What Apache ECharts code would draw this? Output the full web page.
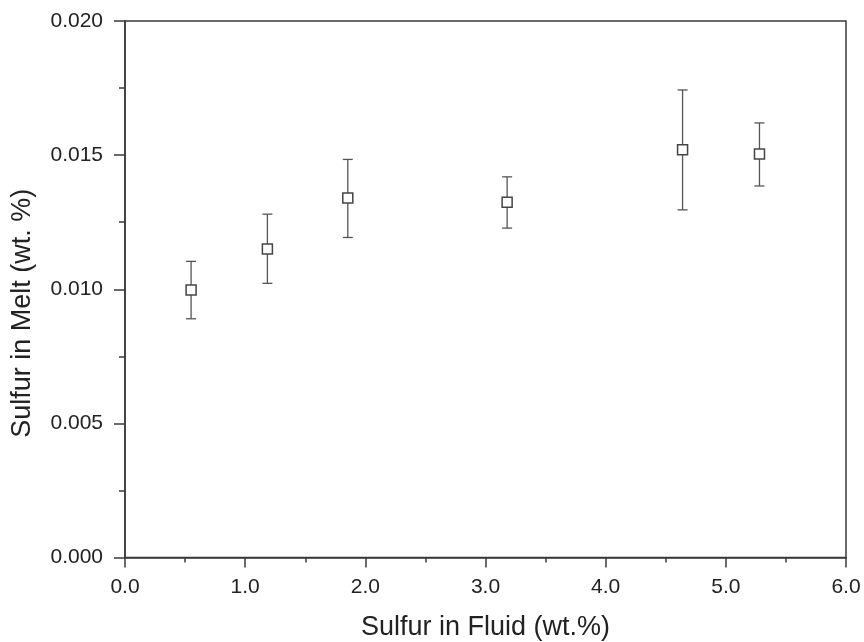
<!DOCTYPE html>
<html><head><meta charset="utf-8">
<script src="https://cdn.jsdelivr.net/npm/echarts@6/dist/echarts.min.js"></script>
<style>html,body{margin:0;padding:0;background:#fff}#c{width:864px;height:642px}</style>
</head><body><div id="c"></div>
<script>
var fluidS = [0.55, 1.185, 1.854, 3.18, 4.64, 5.28];
var meltS = [0.00997, 0.0115, 0.0134, 0.01324, 0.0152, 0.01504];
var errHigh = [0.01104, 0.0128, 0.01484, 0.01419, 0.01743, 0.0162];
var errLow = [0.0089, 0.01022, 0.01193, 0.01228, 0.01296, 0.01385];
var xTitle = 'Sulfur in Fluid (wt.%)';
var yTitle = 'Sulfur in Melt (wt. %)';

var pts = fluidS.map(function(x, i){ return [x, meltS[i]]; });
var errs = fluidS.map(function(x, i){ return [x, errLow[i], errHigh[i]]; });
var axisCol = '#3a3a3a';
var font = 'Liberation Sans, Arial, sans-serif';

var chart = echarts.init(document.getElementById('c'), null, {renderer:'canvas'});
chart.setOption({
  animation: false,
  backgroundColor: '#fff',
  grid: {left:125, top:21, right:18, bottom:84.5, containLabel:false, outerBoundsMode:'none',
         show:true, borderColor:axisCol, borderWidth:1.5, backgroundColor:'transparent'},
  xAxis: {
    type:'value', min:0, max:6, interval:1,
    name:xTitle, nameLocation:'middle', nameGap:57,
    nameTextStyle:{fontFamily:font, fontSize:27, color:'#222'},
    axisLine:{show:true, lineStyle:{color:axisCol, width:1.5}},
    axisTick:{show:true, length:10, lineStyle:{color:axisCol, width:1.5}},
    minorTick:{show:true, splitNumber:2, length:5, lineStyle:{color:axisCol, width:1.5}},
    splitLine:{show:false},
    axisLabel:{fontFamily:font, fontSize:21, color:'#222', margin:19, formatter:function(v){return v.toFixed(1);}}
  },
  yAxis: {
    type:'value', min:0, max:0.02, interval:0.005,
    name:yTitle, nameLocation:'middle', nameGap:89, nameRotate:90,
    nameTextStyle:{fontFamily:font, fontSize:27, color:'#222', padding:[0,48,0,0]},
    axisLine:{show:true, lineStyle:{color:axisCol, width:1.5}},
    axisTick:{show:true, length:11, lineStyle:{color:axisCol, width:1.5}},
    minorTick:{show:true, splitNumber:2, length:6, lineStyle:{color:axisCol, width:1.5}},
    splitLine:{show:false},
    axisLabel:{fontFamily:font, fontSize:21, color:'#222', margin:22, formatter:function(v){return v.toFixed(3);}}
  },
  series: [
    {
      type:'custom',
      data: errs,
      z: 2,
      renderItem: function(params, api){
        var x = api.value(0);
        var lo = api.coord([x, api.value(1)]);
        var hi = api.coord([x, api.value(2)]);
        var hw = 5;
        var st = {stroke:'#555', lineWidth:1.3, fill:null};
        return {type:'group', children:[
          {type:'line', shape:{x1:lo[0], y1:lo[1], x2:hi[0], y2:hi[1]}, style:st},
          {type:'line', shape:{x1:lo[0]-hw, y1:lo[1], x2:lo[0]+hw, y2:lo[1]}, style:st},
          {type:'line', shape:{x1:hi[0]-hw, y1:hi[1], x2:hi[0]+hw, y2:hi[1]}, style:st}
        ]};
      }
    },
    {
      type:'scatter',
      data: pts,
      z: 3,
      symbol:'rect',
      symbolSize:10,
      itemStyle:{color:'#fff', borderColor:'#444', borderWidth:1.5, opacity:1}
    }
  ]
});
</script>
</body></html>
